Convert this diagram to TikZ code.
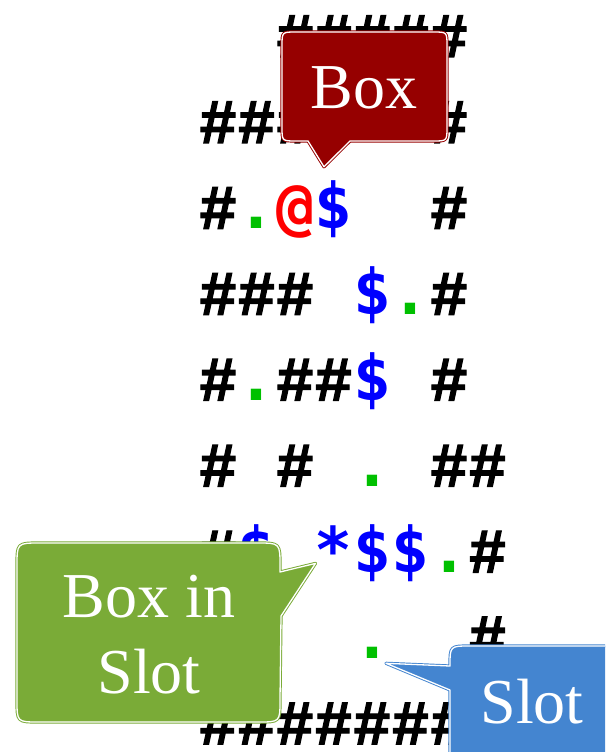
\documentclass[tikz,border=0pt]{standalone}
\usepackage{fontspec}
\setmainfont{Liberation Serif}
\newfontfamily\gridfont{DejaVu Sans Mono}
\newfontfamily\wallfont{Liberation Mono}[UprightFont={* Bold}, UprightFeatures={FakeBold=2}]
\definecolor{boxred}{HTML}{960000}
\definecolor{slotgreen}{HTML}{7AAB37}
\definecolor{slotblue}{HTML}{4485D0}
\definecolor{goalgreen}{HTML}{00C000}
\newcommand{\symW}{{\wallfont\mdseries\#}}
\newcommand{\symB}{\$}
\newcommand{\symP}{@}
\newcommand{\symG}{.}
\newcommand{\symS}{*}
\tikzset{
  cell/.style={anchor=base, inner sep=0pt, font=\gridfont\bfseries\fontsize{63}{63}\selectfont},
  cellW/.style={cell, text=black},
  cellB/.style={cell, text=blue},
  cellP/.style={cell, text=red},
  cellG/.style={cell, text=goalgreen},
  cellS/.style={cell, text=blue},
  callout/.style={line width=3.2pt, line join=round},
  calloutedge/.style={draw=white, line width=1.3pt, line join=round},
  callouttext/.style={text=white, align=center, inner sep=0pt, font=\fontsize{64}{76}\selectfont}
}
\begin{document}
\begin{tikzpicture}[x=1pt, y=-1pt]
\useasboundingbox (0,0) rectangle (605,752);
\clip (0,0) rectangle (605,752);
% grid of the level
\foreach \r/\c/\t in {
  0/2/W,0/3/W,0/4/W,0/5/W,0/6/W,
  1/0/W,1/1/W,1/2/W,1/6/W,
  2/0/W,2/1/G,2/2/P,2/3/B,2/6/W,
  3/0/W,3/1/W,3/2/W,3/4/B,3/5/G,3/6/W,
  4/0/W,4/1/G,4/2/W,4/3/W,4/4/B,4/6/W,
  5/0/W,5/2/W,5/4/G,5/6/W,5/7/W,
  6/0/W,6/1/B,6/3/S,6/4/B,6/5/B,6/6/G,6/7/W,
  7/0/W,7/4/G,7/7/W,
  8/0/W,8/1/W,8/2/W,8/3/W,8/4/W,8/5/W,8/6/W,8/7/W}
  \node[cell\t] (r\r c\c) at ({218+38.5*\c},{57+85.9*\r}) {\csname sym\t\endcsname};
% Box callout
\coordinate (boxtip) at ([xshift=-9.5pt, yshift=62pt]r2c3.base);
\path[fill=boxred, draw=boxred, callout]
  (296,32) -- (433,32) .. controls (447,32) .. (447,46) -- (447,127)
  .. controls (447,141) .. (433,141) -- (350,141) -- (boxtip) -- (308,141)
  -- (296,141) .. controls (282,141) .. (282,127) -- (282,46)
  .. controls (282,32) .. (296,32) -- cycle;
\path[calloutedge]
  (296,32) -- (433,32) .. controls (447,32) .. (447,46) -- (447,127)
  .. controls (447,141) .. (433,141) -- (350,141) -- (boxtip) -- (308,141)
  -- (296,141) .. controls (282,141) .. (282,127) -- (282,46)
  .. controls (282,32) .. (296,32) -- cycle;
\node[callouttext, anchor=base] (boxlabel) at (364,108) {Box};
% Box in Slot callout
\coordinate (stip) at ([xshift=-18pt, yshift=9pt]r6c3.base);
\path[fill=slotgreen, draw=slotgreen, callout]
  (40,543) -- (257,543) .. controls (280,543) .. (280,566) -- (280,572)
  -- (stip) -- (281,616) -- (280,700) .. controls (280,722) .. (258,722)
  -- (39,722) .. controls (17,722) .. (17,700) -- (17,566)
  .. controls (17,543) .. (40,543) -- cycle;
\path[calloutedge]
  (40,543) -- (257,543) .. controls (280,543) .. (280,566) -- (280,572)
  -- (stip) -- (281,616) -- (280,700) .. controls (280,722) .. (258,722)
  -- (39,722) .. controls (17,722) .. (17,700) -- (17,566)
  .. controls (17,543) .. (40,543) -- cycle;
\node[callouttext, anchor=base] (bisline1) at (149,617) {Box in};
\node[callouttext, anchor=base] (bisline2) at (149,693) {Slot};
% Slot callout
\coordinate (gtip) at ([xshift=14pt, yshift=-5pt]r7c4.base);
\path[fill=slotblue, draw=slotblue, callout]
  (450,690) -- (gtip) -- (450,666) .. controls (450,646) .. (470,646)
  -- (630,646) -- (630,780) -- (450,780) -- cycle;
\path[calloutedge]
  (450,690) -- (gtip) -- (450,666) .. controls (450,646) .. (470,646)
  -- (630,646) -- (630,780) -- (450,780) -- cycle;
\node[callouttext, anchor=base] (slotlabel) at (532,723) {Slot};
\end{tikzpicture}
\end{document}
